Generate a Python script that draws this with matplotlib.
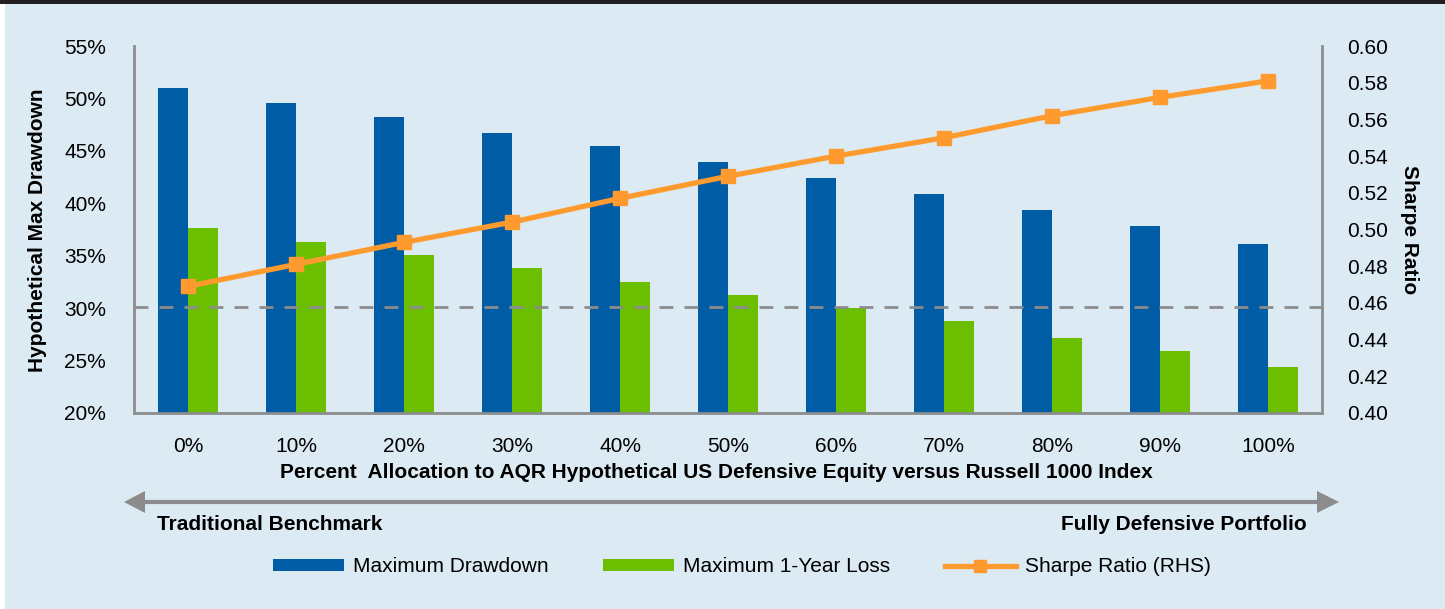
import matplotlib.pyplot as plt
import numpy as np

plt.rcParams['font.family'] = ['Liberation Sans', 'DejaVu Sans']

allocations = ['0%', '10%', '20%', '30%', '40%', '50%', '60%', '70%', '80%', '90%', '100%']
max_drawdown = [51.0, 49.6, 48.2, 46.7, 45.5, 43.9, 42.4, 40.9, 39.4, 37.8, 36.1]
max_1yr_loss = [37.6, 36.3, 35.1, 33.8, 32.5, 31.3, 30.0, 28.8, 27.2, 25.9, 24.4]
sharpe = [0.469, 0.481, 0.493, 0.504, 0.517, 0.529, 0.540, 0.550, 0.562, 0.572, 0.581]
benchmark_line = 30.1

blue = '#005CA4'
green = '#6CBF00'
orange = '#FF9A2E'
bg = '#DCEAF3'
grey = '#8C8C8C'

fig = plt.figure(figsize=(14.45, 6.09), dpi=100)
fig.patch.set_facecolor('white')
# background panel and dark strip on top
fig.add_artist(plt.Rectangle((5 / 1445, 0), 1, 1, transform=fig.transFigure,
                             facecolor=bg, edgecolor='none', zorder=-10))
fig.add_artist(plt.Rectangle((0, 1 - 4 / 609), 1, 4 / 609, transform=fig.transFigure,
                             facecolor='#231F20', edgecolor='none', zorder=-9))

ax = fig.add_axes([134 / 1445, 1 - 413 / 609, 1188 / 1445, 367 / 609])
ax.set_facecolor('none')
x = np.arange(len(allocations))
w = 0.28
ax.bar(x - w / 2, max_drawdown, width=w, color=blue, label='Maximum Drawdown', zorder=2)
ax.bar(x + w / 2, max_1yr_loss, width=w, color=green, label='Maximum 1-Year Loss', zorder=2)
ax.axhline(benchmark_line, color=grey, lw=2, ls=(0, (5, 4)), zorder=3)
ax.set_ylim(20, 55)
ax.set_xlim(-0.5, len(allocations) - 0.5)
ax.set_yticks(np.arange(20, 56, 5))
ax.set_yticklabels([f'{v}%' for v in range(20, 56, 5)])
ax.set_xticks(x)
ax.set_xticklabels(allocations)
ax.tick_params(axis='y', length=0, pad=20, labelsize=15)
ax.tick_params(axis='x', length=0, pad=17, labelsize=15)
for s in ['top', 'right']:
    ax.spines[s].set_visible(False)
for s in ['left', 'bottom']:
    ax.spines[s].set_color(grey)
    ax.spines[s].set_linewidth(2)

ax2 = ax.twinx()
ax2.plot(x, sharpe, color=orange, lw=3.8, marker='s', markersize=10, label='Sharpe Ratio (RHS)', zorder=4)
ax2.set_ylim(0.40, 0.60)
ax2.set_yticks(np.arange(0.40, 0.601, 0.02))
ax2.set_yticklabels([f'{v:.2f}' for v in np.arange(0.40, 0.601, 0.02)])
ax2.tick_params(axis='y', length=0, pad=18, labelsize=15)
for s in ['top', 'left', 'bottom']:
    ax2.spines[s].set_visible(False)
ax2.spines['right'].set_color(grey)
ax2.spines['right'].set_linewidth(2)

fig.text(38 / 1445, 1 - 230 / 609, 'Hypothetical Max Drawdown', rotation=90,
         ha='center', va='center', fontsize=15, fontweight='bold')
fig.text(1410 / 1445, 1 - 230 / 609, 'Sharpe Ratio', rotation=270,
         ha='center', va='center', fontsize=15, fontweight='bold')
fig.text(716 / 1445, 1 - 472 / 609,
         'Percent  Allocation to AQR Hypothetical US Defensive Equity versus Russell 1000 Index',
         ha='center', va='center', fontsize=15, fontweight='bold')

# arrow
fig.add_artist(plt.Line2D([144 / 1445, 1318 / 1445], [1 - 502 / 609] * 2,
                          transform=fig.transFigure, color=grey, lw=3))
for tip, base in [(124, 145), (1339, 1317)]:
    fig.add_artist(plt.Polygon([(tip / 1445, 1 - 502 / 609),
                                (base / 1445, 1 - 491 / 609),
                                (base / 1445, 1 - 513 / 609)],
                               closed=True, transform=fig.transFigure,
                               facecolor=grey, edgecolor='none'))
fig.text(157 / 1445, 1 - 525 / 609, 'Traditional Benchmark', ha='left', va='center',
         fontsize=15, fontweight='bold')
fig.text(1307 / 1445, 1 - 525 / 609, 'Fully Defensive Portfolio', ha='right', va='center',
         fontsize=15, fontweight='bold')

h1, l1 = ax.get_legend_handles_labels()
h2, l2 = ax2.get_legend_handles_labels()
fig.legend(h1 + h2, l1 + l2, loc='center', bbox_to_anchor=(742 / 1445, 1 - 567 / 609),
           ncol=3, frameon=False, fontsize=15, handlelength=3.4, handleheight=0.5,
           handletextpad=0.45, columnspacing=2.6, markerscale=0.8)

fig.savefig('out.png', dpi=100, facecolor=fig.get_facecolor())
